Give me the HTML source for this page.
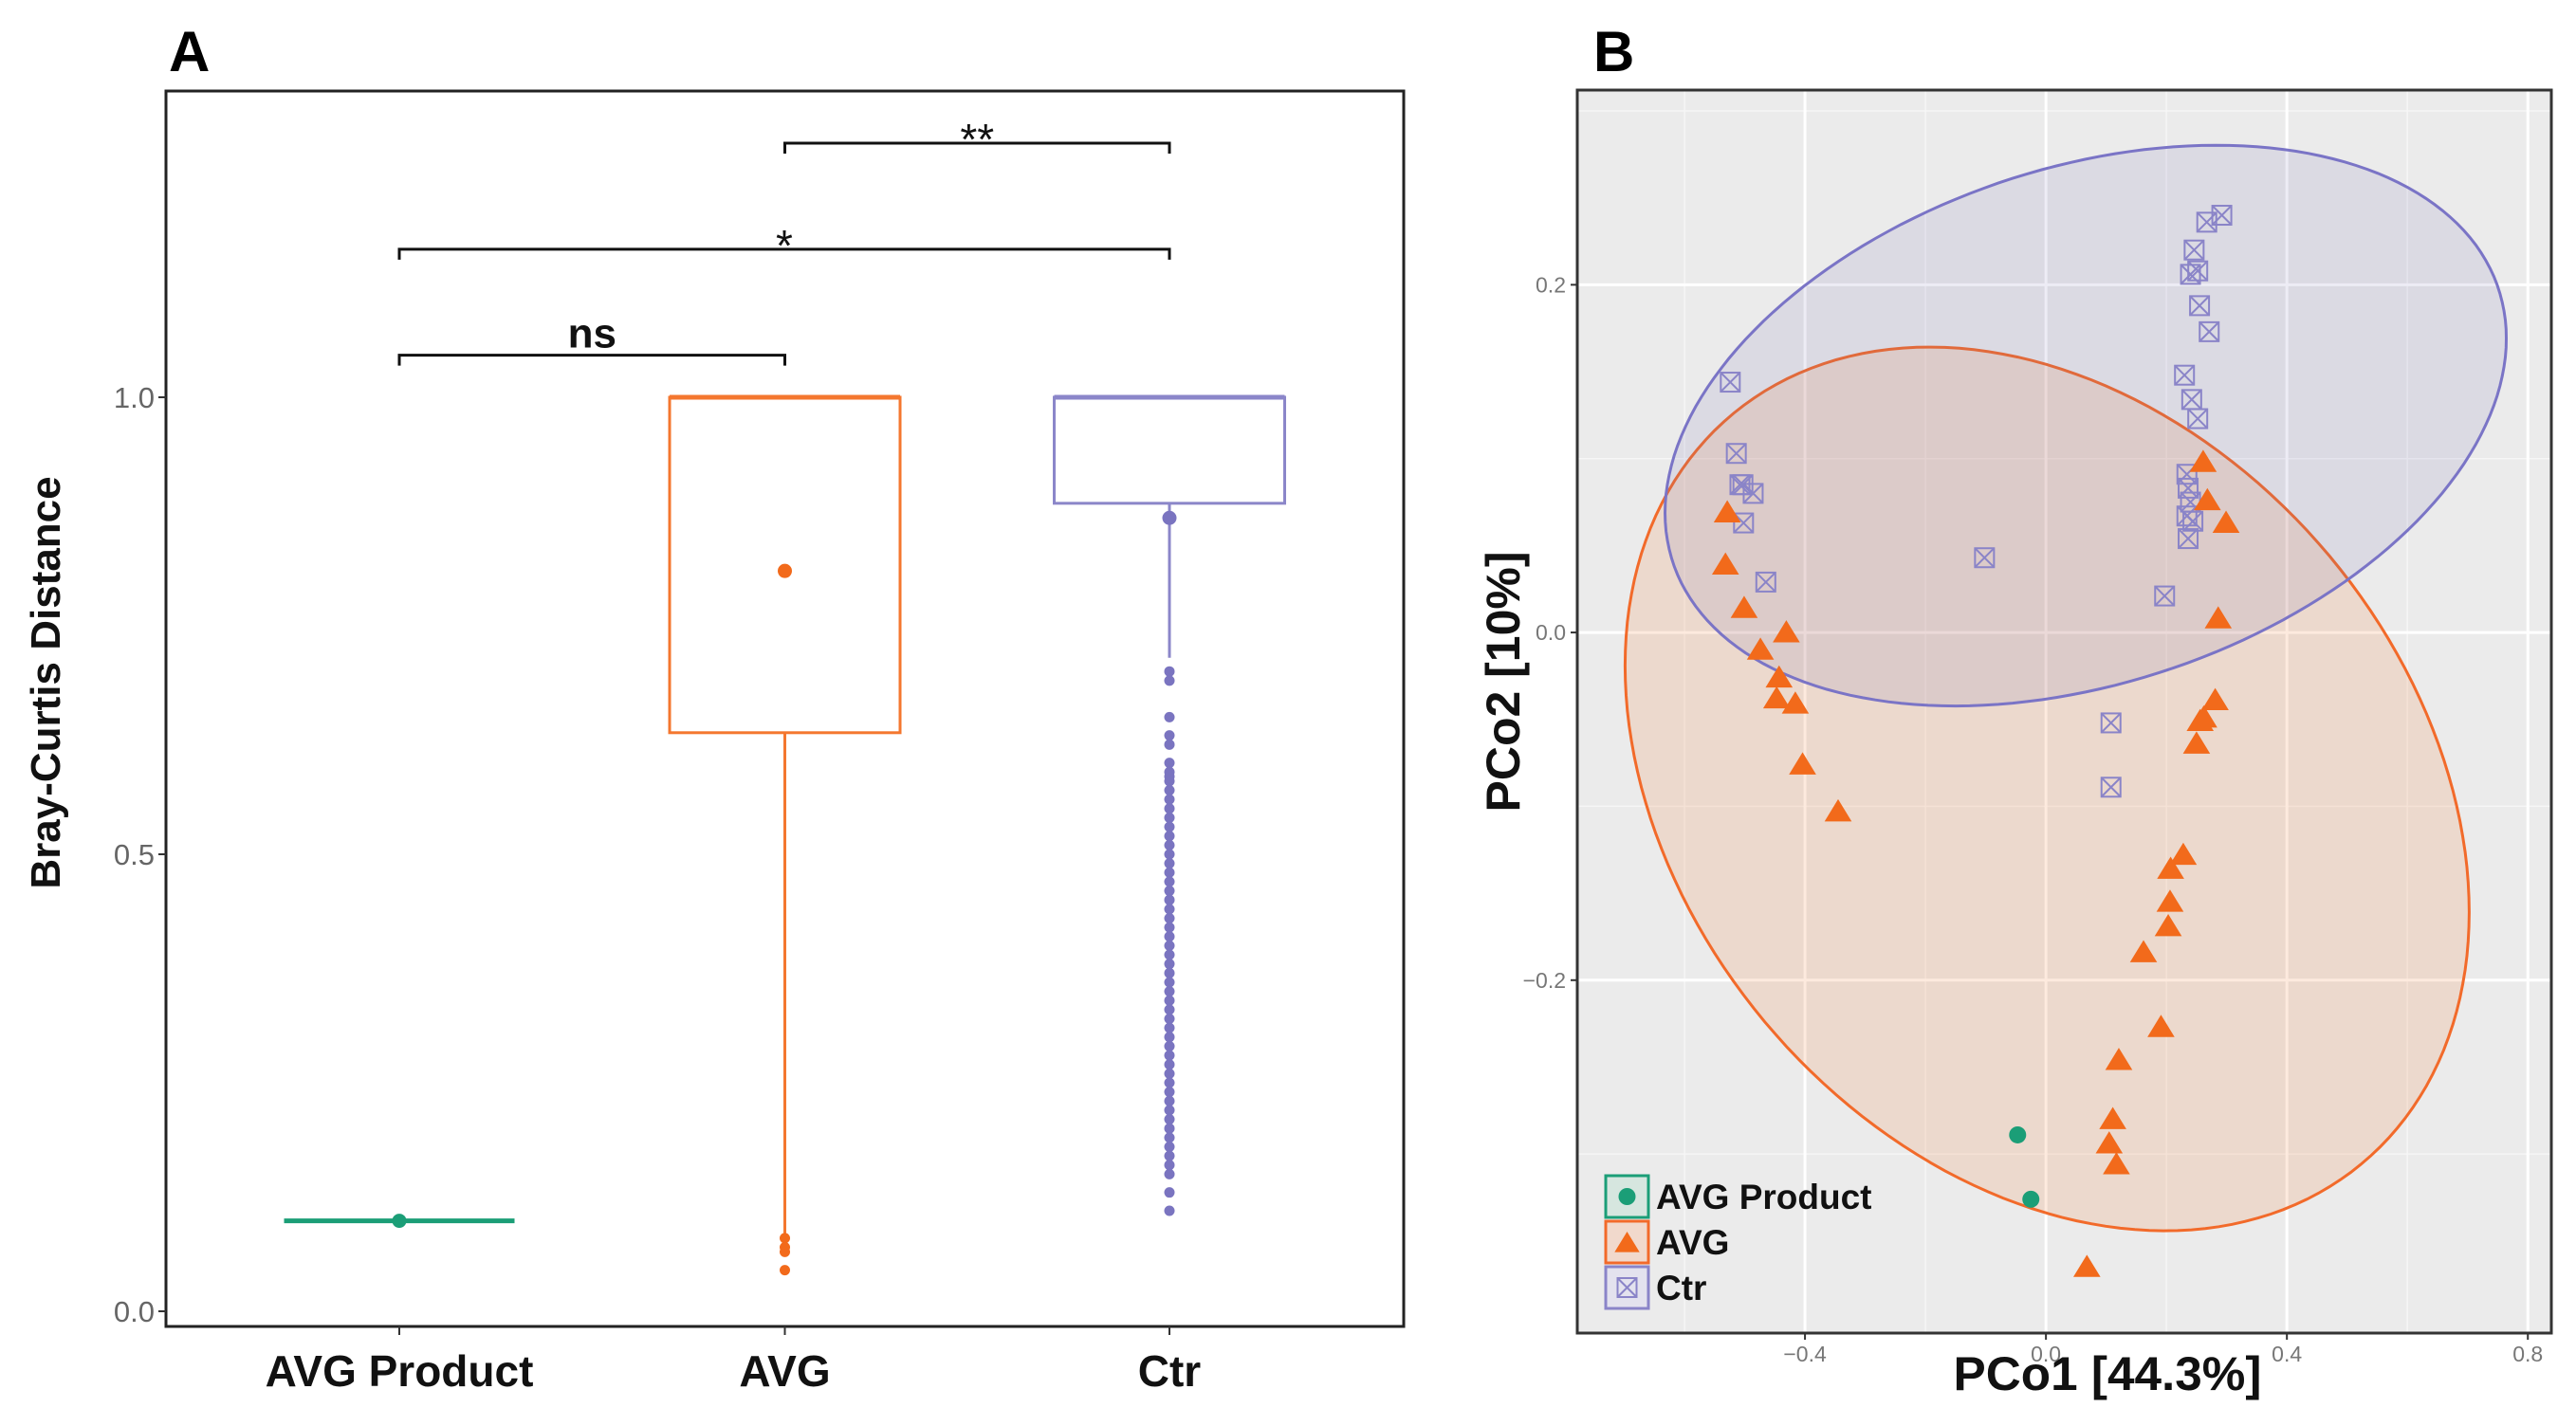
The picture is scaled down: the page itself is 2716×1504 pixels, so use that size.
<!DOCTYPE html>
<html><head><meta charset="utf-8"><style>
html,body{margin:0;padding:0;background:#fff;}
svg{display:block;font-family:"Liberation Sans",Arial,sans-serif;}
</style></head><body>
<svg id="fig" width="2716" height="1504" viewBox="0 0 2716 1504" xmlns="http://www.w3.org/2000/svg">
<g id="panelA"></g>
<g id="panelB"></g>
</svg>
<script>
// ---------- Panel A data ----------
const groupsA = ["AVG Product", "AVG", "Ctr"];
const boxLower = [0.099, 0.633, 0.884];
const boxUpper = [0.099, 1.0, 1.0];
const boxMedian = [0.099, 1.0, 1.0];
const whiskerLow = [0.099, 0.083, 0.715];
const meanVals = [0.099, 0.81, 0.868];
const outliersAVG = [0.08, 0.07, 0.065, 0.045];
const outliersCtr = [0.70,0.69,0.65,0.63,0.62,0.60,0.59,0.585,0.58,0.57,0.56,0.55,0.54,0.53,0.52,0.51,0.50,0.49,0.48,0.47,0.46,0.45,0.44,0.43,0.42,0.41,0.40,0.39,0.38,0.37,0.36,0.35,0.34,0.33,0.32,0.31,0.30,0.29,0.28,0.27,0.26,0.25,0.24,0.23,0.22,0.21,0.20,0.19,0.18,0.17,0.16,0.15,0.13,0.11];
const yTicksA = [0.0, 0.5, 1.0];
const yTickLabelsA = ["0.0", "0.5", "1.0"];
const bracketFrom = [0, 0, 1];
const bracketTo = [1, 2, 2];
const bracketY = [1.046, 1.162, 1.278];
const bracketLabel = ["ns", "*", "**"];

// ---------- Panel B data ----------
const ctrX = [-0.524,-0.514,-0.508,-0.503,-0.486,-0.502,-0.465,-0.102,0.197,0.230,0.242,0.252,0.234,0.236,0.240,0.234,0.244,0.236,0.252,0.240,0.246,0.255,0.271,0.267,0.292,0.108,0.108];
const ctrY = [0.144,0.103,0.085,0.085,0.080,0.063,0.029,0.043,0.021,0.148,0.134,0.123,0.091,0.083,0.075,0.067,0.064,0.054,0.208,0.206,0.220,0.188,0.173,0.236,0.240,-0.052,-0.089];
const avgX = [-0.529,-0.532,-0.501,-0.431,-0.474,-0.443,-0.447,-0.416,-0.404,-0.345,0.261,0.268,0.299,0.286,0.281,0.262,0.256,0.250,0.228,0.207,0.206,0.203,0.162,0.191,0.121,0.111,0.105,0.117,0.068];
const avgY = [0.069,0.039,0.014,0.0,-0.010,-0.026,-0.038,-0.041,-0.076,-0.103,0.098,0.076,0.063,0.008,-0.039,-0.049,-0.051,-0.064,-0.128,-0.136,-0.155,-0.169,-0.184,-0.227,-0.246,-0.280,-0.294,-0.306,-0.365];
const prodX = [-0.047,-0.025];
const prodY = [-0.289,-0.326];
const xTicksB = [-0.4, 0.0, 0.4, 0.8];
const xTickLabelsB = ["\u22120.4", "0.0", "0.4", "0.8"];
const yTicksB = [-0.2, 0.0, 0.2];
const yTickLabelsB = ["\u22120.2", "0.0", "0.2"];
const xMinorB = [-0.6, -0.2, 0.2, 0.6];
const yMinorB = [-0.3, -0.1, 0.1, 0.3];
// ellipse centers (data units)
const ellCtrCenter = [0.066, 0.119];
const ellAvgCenter = [0.002, -0.090];

const NS = "http://www.w3.org/2000/svg";
function mk(parent, tag, attrs, text) {
  const e = document.createElementNS(NS, tag);
  for (const k in attrs) e.setAttribute(k, attrs[k]);
  if (text !== undefined) e.textContent = text;
  parent.appendChild(e);
  return e;
}

// ===== Panel A =====
const A = document.getElementById("panelA");
const aL = 175, aR = 1480, aT = 96, aB = 1399;
const yA = v => 1383 - v * 964;
const xA = i => [421, 827.5, 1233][i];
const colA = ["#1b9e77", "#f4772f", "#8b86c9"];
const dotA = ["#1b9e77", "#f26a1b", "#7a74c0"];

let t = mk(A, "text", {x: 178, y: 75, "font-size": 60, "font-weight": "bold", fill: "#000"}, "A");



let frame = mk(A, "rect", {x: aL, y: aT, width: aR - aL, height: aB - aT, fill: "#fff", stroke: "#222", "stroke-width": 3});



yTicksA.forEach((v, i) => {
  const tk = mk(A, "line", {x1: aL - 8, x2: aL, y1: yA(v), y2: yA(v), stroke: "#333", "stroke-width": 2});
  
  
  const lb = mk(A, "text", {x: aL - 12, y: yA(v) + 11, "font-size": 31, fill: "#666", "text-anchor": "end"}, yTickLabelsA[i]);
  
  
});
groupsA.forEach((g, i) => {
  const tk = mk(A, "line", {x1: xA(i), x2: xA(i), y1: aB, y2: aB + 9, stroke: "#333", "stroke-width": 2});
  
  
  const lb = mk(A, "text", {x: xA(i), y: 1462, "font-size": 46, "font-weight": "bold", fill: "#111", "text-anchor": "middle"}, g);
  
  
});
let yt = mk(A, "text", {x: 0, y: 0, "font-size": 44, "font-weight": "bold", fill: "#111", "text-anchor": "middle", transform: "translate(63,720) rotate(-90)"}, "Bray-Curtis Distance");



const hw = 121.5;
groupsA.forEach((g, i) => {
  const cx = xA(i);
  const grp = mk(A, "g", {});
  
  
  const w = mk(grp, "line", {x1: cx, x2: cx, y1: yA(boxLower[i]), y2: yA(whiskerLow[i]), stroke: colA[i], "stroke-width": 3});
  
  
  const r = mk(grp, "rect", {x: cx - hw, y: yA(boxUpper[i]), width: 2 * hw, height: Math.max(0, yA(boxLower[i]) - yA(boxUpper[i])), fill: "#fff", stroke: colA[i], "stroke-width": 3});
  
  
  const m = mk(grp, "line", {x1: cx - hw, x2: cx + hw, y1: yA(boxMedian[i]), y2: yA(boxMedian[i]), stroke: colA[i], "stroke-width": 5});
  
  
  const d = mk(grp, "circle", {cx: cx, cy: yA(meanVals[i]), r: 7.5, fill: dotA[i]});
  
  
});
outliersAVG.forEach(v => {
  const c = mk(A, "circle", {cx: xA(1), cy: yA(v), r: 5.5, fill: "#f26a1b"});
  
  
});
outliersCtr.forEach(v => {
  const c = mk(A, "circle", {cx: xA(2), cy: yA(v), r: 5.5, fill: "#7a74c0"});
  
  
});
bracketLabel.forEach((lab, i) => {
  const x1 = xA(bracketFrom[i]), x2 = xA(bracketTo[i]), y = yA(bracketY[i]);
  const p = mk(A, "path", {d: `M${x1},${y + 11}V${y}H${x2}V${y + 11}`, fill: "none", stroke: "#111", "stroke-width": 3});
  
  
  const big = lab === "ns";
  const tx = mk(A, "text", {x: (x1 + x2) / 2, y: big ? y - 8 : y + 12, "font-size": big ? 44 : 46, "font-weight": big ? "bold" : "normal", fill: "#111", "text-anchor": "middle"}, lab);
  
  
});

// ===== Panel B =====
const B = document.getElementById("panelB");
const bL = 1663, bR = 2690, bT = 95, bB = 1406;
const xMin = -0.778, xMax = 0.839, yMax = 0.312, yMin = -0.403;
const xB = v => bL + (v - xMin) / (xMax - xMin) * (bR - bL);
const yB = v => bT + (yMax - v) / (yMax - yMin) * (bB - bT);

t = mk(B, "text", {x: 1680, y: 75, "font-size": 60, "font-weight": "bold", fill: "#000"}, "B");



const bg = mk(B, "rect", {x: bL, y: bT, width: bR - bL, height: bB - bT, fill: "#ebebeb"});


xMinorB.forEach(v => {
  const l = mk(B, "line", {x1: xB(v), x2: xB(v), y1: bT, y2: bB, stroke: "#f6f6f6", "stroke-width": 1.5});
  
  
});
yMinorB.forEach(v => {
  const l = mk(B, "line", {x1: bL, x2: bR, y1: yB(v), y2: yB(v), stroke: "#f6f6f6", "stroke-width": 1.5});
  
  
});
xTicksB.forEach((v, i) => {
  const l = mk(B, "line", {x1: xB(v), x2: xB(v), y1: bT, y2: bB, stroke: "#fff", "stroke-width": 3});
  
  
  const tk = mk(B, "line", {x1: xB(v), x2: xB(v), y1: bB, y2: bB + 7, stroke: "#333", "stroke-width": 2});
  
  
  const lb = mk(B, "text", {x: xB(v), y: bB + 30, "font-size": 23, fill: "#777", "text-anchor": "middle"}, xTickLabelsB[i]);
  
  
});
yTicksB.forEach((v, i) => {
  const l = mk(B, "line", {x1: bL, x2: bR, y1: yB(v), y2: yB(v), stroke: "#fff", "stroke-width": 3});
  
  
  const tk = mk(B, "line", {x1: bL - 7, x2: bL, y1: yB(v), y2: yB(v), stroke: "#333", "stroke-width": 2});
  
  
  const lb = mk(B, "text", {x: bL - 12, y: yB(v) + 8, "font-size": 23, fill: "#777", "text-anchor": "end"}, yTickLabelsB[i]);
  
  
});

function ellPath(cx, cy, ux, uy, vx, vy) {
  let d = "";
  for (let k = 0; k <= 180; k++) {
    const a = k / 180 * 2 * Math.PI;
    const px = cx + ux * Math.cos(a) + vx * Math.sin(a);
    const py = cy + uy * Math.cos(a) + vy * Math.sin(a);
    d += (k ? "L" : "M") + px.toFixed(1) + "," + py.toFixed(1);
  }
  return d + "Z";
}
const eA = mk(B, "path", {d: ellPath(xB(ellAvgCenter[0]), yB(ellAvgCenter[1]), 445, 130, 0, 447.5), fill: "rgba(244,122,50,0.16)", stroke: "#f26a2a", "stroke-width": 3});


const eC = mk(B, "path", {d: ellPath(xB(ellCtrCenter[0]), yB(ellCtrCenter[1]), 443.5, -92, 0, 281), fill: "rgba(117,112,179,0.13)", stroke: "#7a74c6", "stroke-width": 3});



const fr = mk(B, "rect", {x: bL, y: bT, width: bR - bL, height: bB - bT, fill: "none", stroke: "#333", "stroke-width": 3});



function sq(parent, x, y) {
  const g = mk(parent, "g", {stroke: "#8a84c8", "stroke-width": 2, fill: "none"});
  mk(g, "rect", {x: x - 10, y: y - 10, width: 20, height: 20});
  mk(g, "path", {d: `M${x - 10},${y - 10}L${x + 10},${y + 10}M${x + 10},${y - 10}L${x - 10},${y + 10}`});
  return g;
}
function tri(parent, x, y, s) {
  return mk(parent, "path", {d: `M${x},${y - s}L${x + s * 1.1},${y + s * 0.8}L${x - s * 1.1},${y + s * 0.8}Z`, fill: "#f26a1b"});
}
ctrX.forEach((v, i) => {
  const g = sq(B, xB(v), yB(ctrY[i]));
  
  
});
avgX.forEach((v, i) => {
  const p = tri(B, xB(v), yB(avgY[i]), 13);
  
  
});
prodX.forEach((v, i) => {
  const c = mk(B, "circle", {cx: xB(v), cy: yB(prodY[i]), r: 9, fill: "#1b9e77"});
  
  
});

const leg = mk(B, "g", {});


const legLabels = ["AVG Product", "AVG", "Ctr"];
const legStroke = ["#1b9e77", "#f26a2a", "#8a84c8"];
const legFill = ["#d6e6df", "#f1d9cc", "#e3e2ee"];
legLabels.forEach((lab, i) => {
  const y0 = 1240 + i * 48;
  const e = mk(leg, "g", {});
  
  
  mk(e, "rect", {x: 1693, y: y0, width: 45, height: 44, fill: legFill[i], stroke: legStroke[i], "stroke-width": 3});
  if (i === 0) mk(e, "circle", {cx: 1715.5, cy: y0 + 22, r: 9, fill: "#1b9e77"});
  if (i === 1) tri(e, 1715.5, y0 + 23, 12);
  if (i === 2) sq(e, 1715.5, y0 + 22);
  mk(e, "text", {x: 1746, y: y0 + 35, "font-size": 37, "font-weight": "bold", fill: "#111"}, lab);
});

let xt = mk(B, "text", {x: 2222, y: 1466, "font-size": 50, "font-weight": "bold", fill: "#111", "text-anchor": "middle", textLength: 325, lengthAdjust: "spacingAndGlyphs"}, "PCo1 [44.3%]");


let yt2 = mk(B, "text", {x: 0, y: 0, "font-size": 50, "font-weight": "bold", fill: "#111", "text-anchor": "middle", textLength: 275, lengthAdjust: "spacingAndGlyphs", transform: "translate(1602,719) rotate(-90)"}, "PCo2 [10%]");


</script>
</body></html>
